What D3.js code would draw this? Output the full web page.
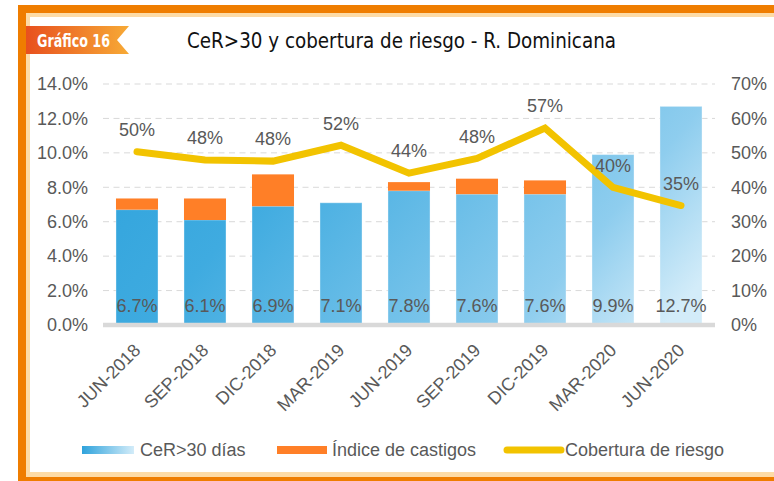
<!DOCTYPE html>
<html><head><meta charset="utf-8">
<script src="https://cdn.jsdelivr.net/npm/d3@7/dist/d3.min.js"></script>
<style>
html,body{margin:0;padding:0;background:#fff;}
svg{display:block;font-family:"Liberation Sans",Arial,sans-serif;}
</style></head>
<body>
<svg id="chart" width="774" height="481"></svg>
<script>
const categories = ["JUN-2018","SEP-2018","DIC-2018","MAR-2019","JUN-2019","SEP-2019","DIC-2019","MAR-2020","JUN-2020"];
const cerValues = [6.7, 6.1, 6.9, 7.1, 7.8, 7.6, 7.6, 9.9, 12.7];
const castigosValues = [0.65, 1.25, 1.85, 0, 0.5, 0.9, 0.8, 0, 0];
const coberturaValues = [50.3, 47.9, 47.6, 52.2, 44.1, 48.4, 57.2, 40.0, 34.7];
const leftTicks = [0, 2, 4, 6, 8, 10, 12, 14];
const rightTicks = [0, 10, 20, 30, 40, 50, 60, 70];
const legendLabels = ["CeR>30 días", "Índice de castigos", "Cobertura de riesgo"];
const titleText = "CeR>30 y cobertura de riesgo - R. Dominicana";
const tagText = "Gráfico 16";

const svg = d3.select("#chart");
const textColor = "#595959";
const orange = "#EF7D00", pale = "#FDDBA6";
const condensed = "'DejaVu Sans Condensed','Liberation Sans Narrow','Liberation Sans',Arial,sans-serif";

// frame
svg.append("rect").attr("x",18).attr("y",5).attr("width",756).attr("height",8).attr("fill",orange);
svg.append("rect").attr("x",26).attr("y",13).attr("width",748).attr("height",4).attr("fill",pale);
svg.append("rect").attr("x",18).attr("y",5).attr("width",8).attr("height",476).attr("fill",orange);
svg.append("rect").attr("x",26).attr("y",13).attr("width",4).attr("height",463).attr("fill",pale);
svg.append("rect").attr("x",26).attr("y",472).attr("width",748).attr("height",5).attr("fill",pale);
svg.append("rect").attr("x",18).attr("y",477).attr("width",756).attr("height",4).attr("fill",orange);

const defs = svg.append("defs");
const tg = defs.append("linearGradient").attr("id","tagGrad").attr("x1","0").attr("x2","1").attr("y1","0").attr("y2","0");
tg.append("stop").attr("offset","0").attr("stop-color","#E8501E");
tg.append("stop").attr("offset","1").attr("stop-color","#F7AA36");

// tag
svg.append("path").attr("d","M26,26 L129,26 L117,40 L129,54 L26,54 Z").attr("fill","url(#tagGrad)");
svg.append("text").attr("x",37).attr("y",47).attr("fill","#fff")
  .style("font-family",condensed)
  .style("font-weight","bold").style("font-size","18px")
  .attr("textLength",73).attr("lengthAdjust","spacingAndGlyphs").text(tagText);
// title
svg.append("text").attr("x",187).attr("y",48).attr("fill","#111")
  .style("font-family",condensed)
  .style("font-size","22px")
  .attr("textLength",429).attr("lengthAdjust","spacingAndGlyphs").text(titleText);

// scales
const x = d3.scaleBand().domain(categories).range([103,715]).paddingInner(0.382).paddingOuter(0.191);
const yL = d3.scaleLinear().domain([0,14]).range([325,84]);
const yR = d3.scaleLinear().domain([0,70]).range([325,84]);

// bar gradient (user space, derived from scales)
const x0 = x(categories[0]), xW = x(categories[8]) + x.bandwidth() - x0;
const yTop = yL(d3.max(cerValues)), yH = yL(0) - yTop;
const gx = 0.8 / xW, gy = 0.25 / yH, g2 = gx*gx + gy*gy;
const bg = defs.append("linearGradient").attr("id","barGrad").attr("gradientUnits","userSpaceOnUse")
  .attr("x1",x0).attr("y1",yTop).attr("x2",x0 + gx/g2).attr("y2",yTop + gy/g2);
[[0,"#2FA3DC"],[0.3,"#3FABE0"],[0.8,"#8ECDEE"],[1,"#D3ECF9"]].forEach(s=>bg.append("stop").attr("offset",s[0]).attr("stop-color",s[1]));
const lg = defs.append("linearGradient").attr("id","legGrad").attr("x1","0").attr("x2","1").attr("y1","0").attr("y2","0");
lg.append("stop").attr("offset","0").attr("stop-color","#2FA3DC");
lg.append("stop").attr("offset","1").attr("stop-color","#D3ECF9");

// gridlines
svg.append("g").selectAll("line").data(leftTicks.filter(d=>d>0)).join("line")
  .attr("x1",103).attr("x2",715).attr("y1",d=>yL(d)).attr("y2",d=>yL(d))
  .attr("stroke","#D9D9D9").attr("stroke-width",1).attr("stroke-dasharray","6,4.5");

// axes
const axL = svg.append("g").attr("transform","translate(88,0)")
  .call(d3.axisLeft(yL).tickValues(leftTicks).tickSize(0).tickPadding(0).tickFormat(d=>d.toFixed(1)+"%"));
const axR = svg.append("g").attr("transform","translate(731,0)")
  .call(d3.axisRight(yR).tickValues(rightTicks).tickSize(0).tickPadding(0).tickFormat(d=>d+"%"));
[axL,axR].forEach(a=>{a.select(".domain").remove();
  a.selectAll("text").attr("fill",textColor).style("font-size","18px").style("font-family","'Liberation Sans',Arial,sans-serif");});

// bars
svg.append("g").selectAll("rect").data(categories).join("rect")
  .attr("x",d=>x(d)).attr("width",x.bandwidth())
  .attr("y",(d,i)=>yL(cerValues[i])).attr("height",(d,i)=>yL(0)-yL(cerValues[i]))
  .attr("fill","url(#barGrad)").attr("stroke","rgba(255,255,255,0.35)").attr("stroke-width",1);
svg.append("g").selectAll("rect").data(categories.filter((d,i)=>castigosValues[i]>0)).join("rect")
  .attr("x",d=>x(d)).attr("width",x.bandwidth())
  .attr("y",d=>{const i=categories.indexOf(d);return yL(cerValues[i]+castigosValues[i]);})
  .attr("height",d=>{const i=categories.indexOf(d);return yL(cerValues[i])-yL(cerValues[i]+castigosValues[i]);})
  .attr("fill","#FF7F27");

// baseline
svg.append("line").attr("x1",103).attr("x2",715).attr("y1",yL(0)).attr("y2",yL(0))
  .attr("stroke","#D9D9D9").attr("stroke-width",4.5);

// bar labels
svg.append("g").selectAll("text").data(categories).join("text")
  .attr("x",d=>x(d)+x.bandwidth()/2).attr("y",yL(0)-13).attr("text-anchor","middle")
  .attr("fill",textColor).style("font-size","18px").text((d,i)=>cerValues[i].toFixed(1)+"%");

// line
const cx = d=>x(d)+x.bandwidth()/2;
svg.append("path").datum(categories)
  .attr("d",d3.line().x(d=>cx(d)).y((d,i)=>yR(coberturaValues[i])))
  .attr("fill","none").attr("stroke","#F2C300").attr("stroke-width",7)
  .attr("stroke-linecap","round").attr("stroke-linejoin","miter");
svg.append("g").selectAll("text").data(categories).join("text")
  .attr("x",d=>cx(d)).attr("y",(d,i)=>yR(coberturaValues[i])-22).attr("dy","0.35em")
  .attr("text-anchor","middle").attr("fill",textColor).style("font-size","18px")
  .text((d,i)=>Math.round(coberturaValues[i])+"%");

// x labels
svg.append("g").selectAll("text").data(categories).join("text")
  .attr("transform",d=>`translate(${cx(d)},347) rotate(-45)`).attr("dy","0.35em")
  .attr("text-anchor","end").attr("fill",textColor).style("font-size","18px").text(d=>d);

// legend
const lgY = 450;
svg.append("rect").attr("x",82).attr("y",lgY-4).attr("width",52).attr("height",8).attr("fill","url(#legGrad)");
svg.append("rect").attr("x",277).attr("y",lgY-4).attr("width",50).attr("height",8).attr("fill","#FF7F27");
svg.append("line").attr("x1",507).attr("x2",561).attr("y1",lgY).attr("y2",lgY)
  .attr("stroke","#F2C300").attr("stroke-width",7).attr("stroke-linecap","round");
const legX = [140, 332, 565];
svg.append("g").selectAll("text").data(legendLabels).join("text")
  .attr("x",(d,i)=>legX[i]).attr("y",lgY).attr("dy","0.35em").attr("fill",textColor)
  .style("font-size","18px").text(d=>d);
</script>
</body></html>
